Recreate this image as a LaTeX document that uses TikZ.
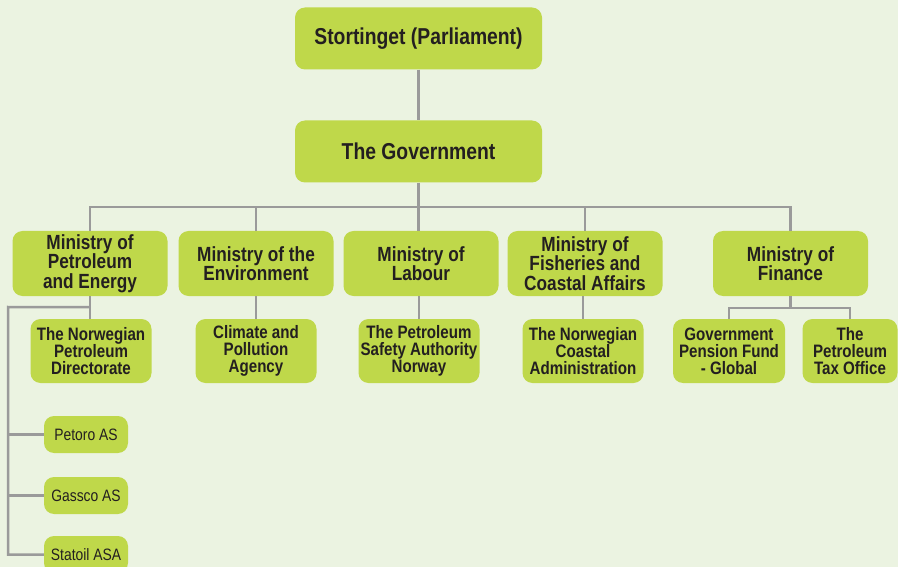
\documentclass[tikz,border=0pt]{standalone}
\usepackage{fontspec}
\setmainfont{Liberation Sans}[FakeStretch=0.84]
\usetikzlibrary{positioning}
\definecolor{bgpale}{HTML}{EBF3E1}
\definecolor{lime}{HTML}{BFD84A}
\definecolor{linegray}{HTML}{9A9A9A}
\definecolor{inkdark}{HTML}{231F20}

\begin{document}
\begin{tikzpicture}[x=1pt, y=-1pt,
  box/.style={fill=lime, rounded corners=10pt, align=center, text=inkdark, inner sep=0pt},
  top/.style={box, minimum width=247pt, minimum height=62pt, font=\fontsize{23}{26}\selectfont\bfseries},
  ministry/.style={box, minimum width=155pt, minimum height=65pt, font=\fontsize{20.5}{19.5}\selectfont\bfseries},
  agency/.style={box, minimum width=121pt, minimum height=64pt, font=\fontsize{18}{17}\selectfont\bfseries},
  company/.style={box, minimum width=84pt, minimum height=37pt, font=\fontsize{16.5}{18}\selectfont},
  link/.style={linegray, line width=2.5pt}]
\fill[bgpale] (0,0) rectangle (898,567);
\useasboundingbox (0,0) rectangle (898,567);
% top
\node[top] (parl) at (418.5,38.5) {Stortinget (Parliament)};
\node[top] (gov) at (418.5,151.5) {The Government};
% ministries
\node[ministry] (mpe) at (90,263.5) {Ministry of\\Petroleum\\and Energy};
\node[ministry] (menv) at (256,263.5) {Ministry of the\\Environment};
\node[ministry] (mlab) at (421,263.5) {Ministry of\\Labour};
\node[ministry] (mfish) at (585,263.5) {Ministry of\\Fisheries and\\Coastal Affairs};
\node[ministry] (mfin) at (790.5,263.5) {Ministry of\\Finance};
% agencies
\node[agency] (npd) at (91,351) {The Norwegian\\Petroleum\\Directorate};
\node[agency] (cpa) at (256,351) {Climate and\\Pollution\\Agency};
\node[agency] (psa) at (419,351) {The Petroleum\\Safety Authority\\Norway};
\node[agency] (nca) at (583,351) {The Norwegian\\Coastal\\Administration};
\node[agency, minimum width=112pt] (gpf) at (729,351) {Government\\Pension Fund\\- Global};
\node[agency, minimum width=95pt] (pto) at (850,351) {The\\Petroleum\\Tax Office};
% companies
\node[company] (petoro) at (86,434.5) {Petoro AS};
\node[company] (gassco) at (86,495.5) {Gassco AS};
\node[company] (statoil) at (86,554.5) {Statoil ASA};
% lines
\draw[link] (parl) -- (gov);
\draw[link] (gov.south) -- (gov.south |- mlab.north);
\draw[link] (mpe.north) -- ++(0,-24) coordinate (bus) -| (mfin.north);
\draw[link] (menv.north) -- (menv.north |- bus);
\draw[link] (mfish.north) -- (mfish.north |- bus);
\draw[link] (mpe.south) -- (mpe.south |- npd.north);
\draw[link] (menv.south) -- (menv.south |- cpa.north);
\draw[link] (psa.north) -- (psa.north |- mlab.south);
\draw[link] (nca.north) -- (nca.north |- mfish.south);
\draw[link] (mfin.south) -- ++(0,12) coordinate (fbus);
\draw[link] (gpf.north) |- (fbus) -| (pto.north);
\path (mpe.south) ++(0,11) coordinate (mbus);
\coordinate (spine) at (8,307);
\draw[link] (mbus) -- (spine) |- (statoil.west);
\draw[link] (spine |- petoro) -- (petoro.west);
\draw[link] (spine |- gassco) -- (gassco.west);
\end{tikzpicture}
\end{document}
